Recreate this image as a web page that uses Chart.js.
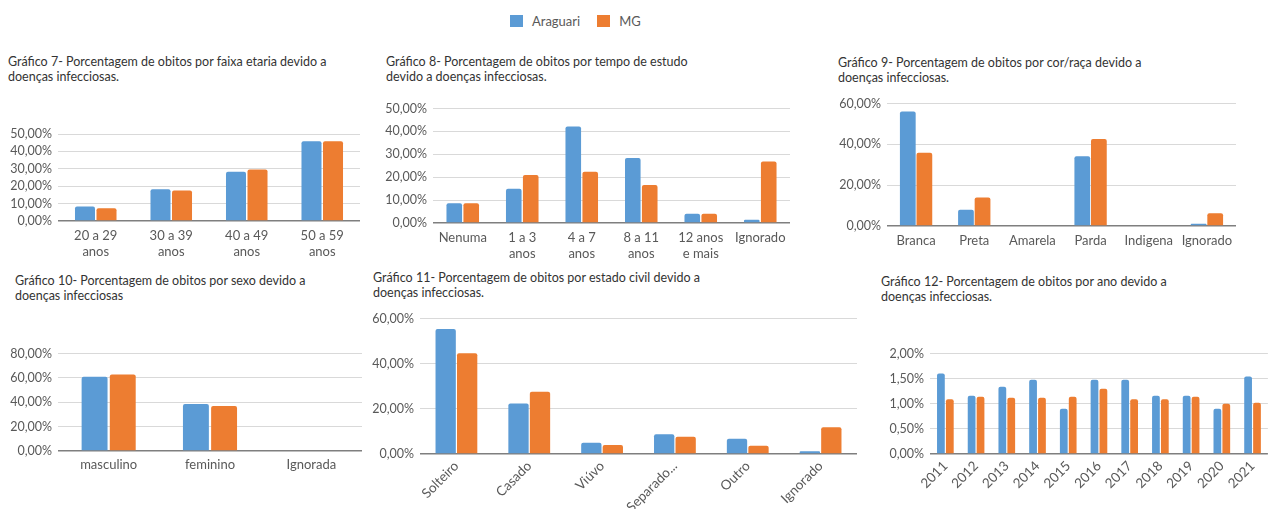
<!DOCTYPE html>
<html lang="pt-BR">
<head>
<meta charset="utf-8">
<title>Óbitos por doenças infecciosas - Araguari x MG</title>
<script src="https://cdn.jsdelivr.net/npm/chart.js@4"></script>
<style>
  html, body { margin: 0; padding: 0; background: #fff; }
  body { width: 1268px; height: 509px; position: relative; overflow: hidden; font-family: Lato, sans-serif; }
  .box { position: absolute; }
  .titulo { position: absolute; font-size: 12.5px; line-height: 15px; color: #333; white-space: nowrap; }
  .legenda { position: absolute; top: 13px; left: 510px; font-size: 13px; color: #595959; display: flex; align-items: center; }
  .legenda span.cor { display: inline-block; width: 13px; height: 12px; margin-right: 9px; }
  .legenda span.nome { margin-right: 17px; }
</style>
</head>
<body>

<div class="legenda">
  <span class="cor" style="background:#5b9bd5"></span><span class="nome">Araguari</span>
  <span class="cor" style="background:#ed7d31"></span><span class="nome">MG</span>
</div>

<div class="titulo" style="left:8px;top:54px">Gráfico 7- Porcentagem de obitos por faixa etaria devido a<br>doenças infecciosas.</div>
<div class="titulo" style="left:386px;top:54px">Gráfico 8- Porcentagem de obitos por tempo de estudo<br>devido a doenças infecciosas.</div>
<div class="titulo" style="left:838px;top:55px">Gráfico 9- Porcentagem de obitos por cor/raça devido a<br>doenças infecciosas.</div>
<div class="titulo" style="left:15px;top:273px">Gráfico 10- Porcentagem de obitos por sexo devido a<br>doenças infecciosas</div>
<div class="titulo" style="left:373px;top:270px">Gráfico 11- Porcentagem de obitos por estado civil devido a<br>doenças infecciosas.</div>
<div class="titulo" style="left:881px;top:274px">Gráfico 12- Porcentagem de obitos por ano devido a<br>doenças infecciosas.</div>

<canvas id="g7" class="box"></canvas>
<canvas id="g8" class="box"></canvas>
<canvas id="g9" class="box"></canvas>
<canvas id="g10" class="box"></canvas>
<canvas id="g11" class="box"></canvas>
<canvas id="g12" class="box"></canvas>

<script>
// Series
const seriesNames = ['Araguari', 'MG'];
const seriesColors = ['#5b9bd5', '#ed7d31'];

// Gráfico 7 - faixa etária
const faixaLabels = [['20 a 29', 'anos'], ['30 a 39', 'anos'], ['40 a 49', 'anos'], ['50 a 59', 'anos']];
const faixaAraguari = [8.3, 18.3, 28.3, 45.8];
const faixaMG = [7.3, 17.5, 29.6, 45.8];

// Gráfico 8 - tempo de estudo
const estudoLabels = ['Nenuma', ['1 a 3', 'anos'], ['4 a 7', 'anos'], ['8 a 11', 'anos'], ['12 anos', 'e mais'], 'Ignorado'];
const estudoAraguari = [8.6, 15.0, 42.1, 28.4, 4.0, 1.4];
const estudoMG = [8.6, 21.0, 22.4, 16.6, 4.0, 26.9];

// Gráfico 9 - cor/raça
const racaLabels = ['Branca', 'Preta', 'Amarela', 'Parda', 'Indigena', 'Ignorado'];
const racaAraguari = [56.1, 7.9, 0, 34.2, 0, 1.1];
const racaMG = [35.9, 14.0, 0, 42.6, 0, 6.3];

// Gráfico 10 - sexo
const sexoLabels = ['masculino', 'feminino', 'Ignorada'];
const sexoAraguari = [60.9, 38.5, 0];
const sexoMG = [62.7, 36.9, 0];

// Gráfico 11 - estado civil
const civilLabels = ['Solteiro', 'Casado', 'Viúvo', 'Separado...', 'Outro', 'Ignorado'];
const civilAraguari = [55.3, 22.4, 5.0, 8.7, 6.7, 1.2];
const civilMG = [44.6, 27.6, 4.0, 7.6, 3.7, 11.9];

// Gráfico 12 - ano
const anoLabels = ['2011', '2012', '2013', '2014', '2015', '2016', '2017', '2018', '2019', '2020', '2021'];
const anoAraguari = [1.60, 1.16, 1.34, 1.48, 0.90, 1.48, 1.48, 1.16, 1.16, 0.90, 1.54];
const anoMG = [1.09, 1.14, 1.12, 1.12, 1.14, 1.30, 1.09, 1.09, 1.14, 1.00, 1.02];

const pct = v => Number(v).toFixed(2).replace('.', ',') + '%';

// box: canvas [x, y, w, h]; area: plot rectangle [left, top, right, bottom] in page pixels
function barChart(id, box, area, labels, araguari, mg, yMax, yStep, cfg) {
  cfg = cfg || {};
  const canvas = document.getElementById(id);
  const [bx, by, bw, bh] = box;
  const [al, at, ar, ab] = area;
  canvas.width = bw;
  canvas.height = bh;
  canvas.style.left = bx + 'px';
  canvas.style.top = by + 'px';
  canvas.style.width = bw + 'px';
  canvas.style.height = bh + 'px';

  const yWidth = al - bx;
  const xHeight = by + bh - ab;

  const ds = (label, data, color) => ({
    label: label,
    data: data,
    backgroundColor: color,
    borderRadius: 2,
    borderSkipped: 'start',
    categoryPercentage: cfg.cat || 0.57,
    barPercentage: cfg.bar || 0.92
  });

  return new Chart(canvas, {
    type: 'bar',
    data: {
      labels: labels,
      datasets: [
        ds(seriesNames[0], araguari, seriesColors[0]),
        ds(seriesNames[1], mg, seriesColors[1])
      ]
    },
    options: {
      responsive: false,
      animation: false,
      devicePixelRatio: 1,
      layout: { padding: { top: at - by, right: bx + bw - ar, left: 0, bottom: 0 } },
      plugins: { legend: { display: false }, tooltip: { enabled: false } },
      scales: {
        x: {
          afterFit: s => { s.height = xHeight; },
          grid: { display: false, drawTicks: false },
          border: { display: false },
          ticks: {
            color: '#595959',
            font: { family: 'Lato', size: cfg.xFont || 13 },
            padding: cfg.xPad || 7,
            autoSkip: false,
            maxRotation: cfg.rot || 0,
            minRotation: cfg.rot || 0
          }
        },
        y: {
          min: 0,
          max: yMax,
          afterFit: s => { s.width = yWidth; },
          border: { display: false },
          grid: {
            drawTicks: false,
            color: c => c.tick.value === 0 ? '#7f7f7f' : '#d9d9d9',
            lineWidth: c => c.tick.value === 0 ? 1.5 : 1
          },
          ticks: {
            stepSize: yStep,
            autoSkip: false,
            color: '#595959',
            font: { family: 'Lato', size: 12.5 },
            padding: 6,
            callback: v => pct(v)
          }
        }
      }
    }
  });
}

function initGraficos() {
  barChart('g7', [0, 120, 365, 140], [58, 134, 360, 221], faixaLabels, faixaAraguari, faixaMG, 50, 10, { bar: 0.93 });
  barChart('g8', [380, 95, 415, 165], [433, 107, 790, 223], estudoLabels, estudoAraguari, estudoMG, 50, 10);
  barChart('g9', [800, 90, 445, 170], [887, 102, 1236, 226], racaLabels, racaAraguari, racaMG, 60, 20, { bar: 0.95 });
  barChart('g10', [0, 340, 365, 169], [58, 350, 362, 451], sexoLabels, sexoAraguari, sexoMG, 80, 20, { cat: 0.556, xPad: 6 });
  barChart('g11', [360, 305, 500, 204], [420, 318, 857, 454], civilLabels, civilAraguari, civilMG, 60, 20, { cat: 0.59, bar: 0.945, rot: 45, xPad: 4, xFont: 13.5 });
  barChart('g12', [870, 340, 398, 169], [930, 350, 1268, 454], anoLabels, anoAraguari, anoMG, 2, 0.5, { cat: 0.58, bar: 0.87, rot: 45, xPad: 4, xFont: 13.5 });
}

initGraficos();
</script>
</body>
</html>
